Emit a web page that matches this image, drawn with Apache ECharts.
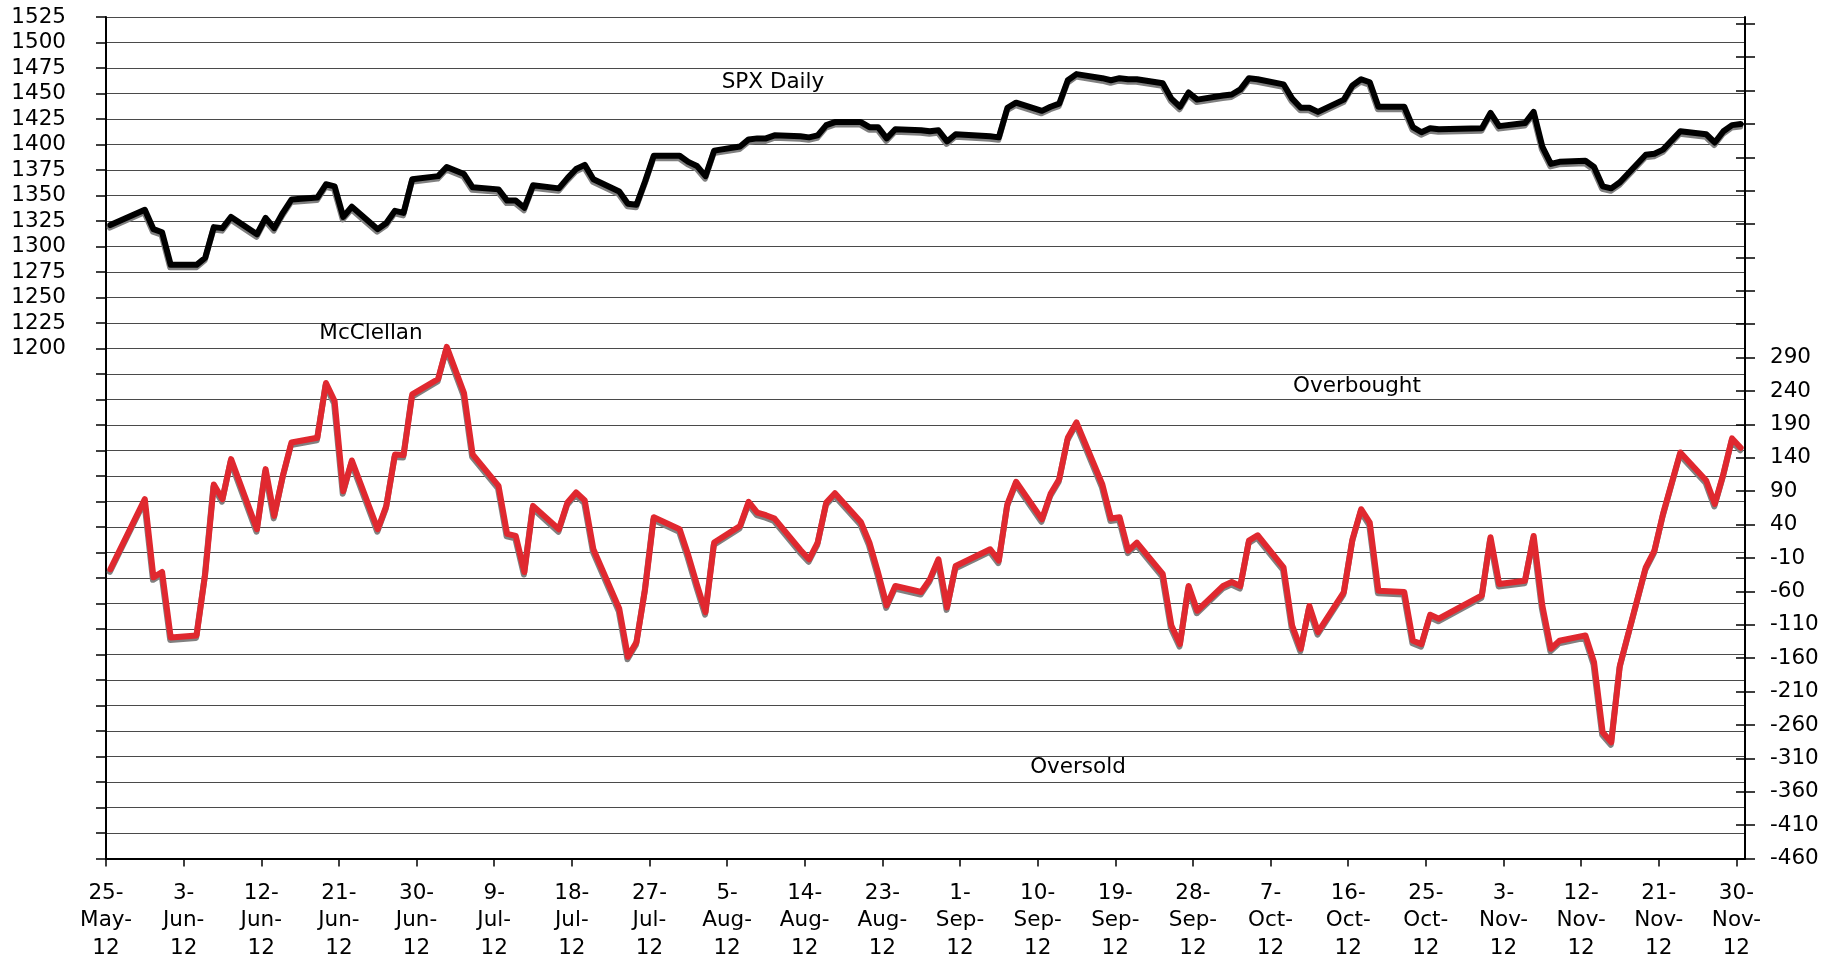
<!DOCTYPE html>
<html>
<head>
<meta charset="utf-8">
<script src="https://cdn.jsdelivr.net/npm/echarts@6/dist/echarts.min.js"></script>
<style>
  html, body { margin: 0; padding: 0; background: #fff; }
  #chart { width: 1839px; height: 962px; }
</style>
</head>
<body>
<div id="chart"></div>
<script>
// ---------- DATA ----------
const dates = [
  '2012-05-25','2012-05-29','2012-05-30','2012-05-31',
  '2012-06-01','2012-06-04','2012-06-05','2012-06-06','2012-06-07','2012-06-08','2012-06-11','2012-06-12','2012-06-13','2012-06-14','2012-06-15','2012-06-18','2012-06-19','2012-06-20','2012-06-21','2012-06-22','2012-06-25','2012-06-26','2012-06-27','2012-06-28','2012-06-29',
  '2012-07-02','2012-07-03','2012-07-05','2012-07-06','2012-07-09','2012-07-10','2012-07-11','2012-07-12','2012-07-13','2012-07-16','2012-07-17','2012-07-18','2012-07-19','2012-07-20','2012-07-23','2012-07-24','2012-07-25','2012-07-26','2012-07-27','2012-07-30','2012-07-31',
  '2012-08-01','2012-08-02','2012-08-03','2012-08-06','2012-08-07','2012-08-08','2012-08-09','2012-08-10','2012-08-13','2012-08-14','2012-08-15','2012-08-16','2012-08-17','2012-08-20','2012-08-21','2012-08-22','2012-08-23','2012-08-24','2012-08-27','2012-08-28','2012-08-29','2012-08-30','2012-08-31',
  '2012-09-04','2012-09-05','2012-09-06','2012-09-07','2012-09-10','2012-09-11','2012-09-12','2012-09-13','2012-09-14','2012-09-17','2012-09-18','2012-09-19','2012-09-20','2012-09-21','2012-09-24','2012-09-25','2012-09-26','2012-09-27','2012-09-28',
  '2012-10-01','2012-10-02','2012-10-03','2012-10-04','2012-10-05','2012-10-08','2012-10-09','2012-10-10','2012-10-11','2012-10-12','2012-10-15','2012-10-16','2012-10-17','2012-10-18','2012-10-19','2012-10-22','2012-10-23','2012-10-24','2012-10-25','2012-10-26','2012-10-31',
  '2012-11-01','2012-11-02','2012-11-05','2012-11-06','2012-11-07','2012-11-08','2012-11-09','2012-11-12','2012-11-13','2012-11-14','2012-11-15','2012-11-16','2012-11-19','2012-11-20','2012-11-21','2012-11-23','2012-11-26','2012-11-27','2012-11-28','2012-11-29','2012-11-30'
];

const spxDaily = [
  1321, 1336, 1317, 1314,
  1282, 1282, 1289, 1319, 1318, 1329, 1312, 1328, 1318, 1333, 1346, 1348, 1361, 1359, 1329, 1339, 1317, 1323, 1335, 1333, 1366,
  1369, 1378, 1371, 1358, 1356, 1345, 1345, 1338, 1360, 1357, 1367, 1376, 1380, 1366, 1354, 1342, 1341, 1364, 1389, 1389, 1383,
  1379, 1369, 1394, 1398, 1405, 1406, 1406, 1409, 1408, 1407, 1409, 1419, 1422, 1422, 1417, 1417, 1406, 1415, 1414, 1413, 1414, 1403, 1410,
  1408, 1407, 1436, 1441, 1433, 1437, 1440, 1463, 1469, 1465, 1463, 1465, 1464, 1464, 1460, 1445, 1437, 1451, 1444,
  1448, 1449, 1454, 1465, 1464, 1459, 1445, 1436, 1436, 1432, 1444, 1458, 1464, 1461, 1437, 1437, 1417, 1412, 1416, 1415, 1416,
  1431, 1418, 1421, 1432, 1398, 1381, 1383, 1384, 1378, 1359, 1357, 1363, 1390, 1391, 1395, 1413, 1410, 1402, 1413, 1419, 1420
];

const mcClellan = [
  -27, 78, -39, -31,
  -129, -126, -34, 100, 78, 138, 33, 123, 53, 113, 163, 170, 252, 225, 90, 136, 33, 68, 145, 144, 235,
  258, 306, 237, 145, 98, 26, 23, -31, 68, 33, 73, 88, 76, 3, -86, -158, -136, -56, 51, 33, -6,
  -50, -91, 13, 38, 74, 58, 54, 49, 2, -12, 13, 73, 87, 44, 13, -32, -81, -52, -61, -42, -12, -84, -22,
  3, -14, 71, 104, 48, 86, 108, 170, 193, 100, 49, 51, 1, 13, -34, -111, -139, -52, -89,
  -52, -46, -52, 16, 24, -24, -111, -146, -82, -121, -61, 18, 63, 43, -59, -61, -134, -139, -95, -101, -66,
  21, -49, -44, 23, -81, -146, -134, -126, -166, -271, -286, -171, -24, 1, 56, 148, 106, 71, 116, 169, 155
];

const xTickDates = ['2012-05-25','2012-06-03','2012-06-12','2012-06-21','2012-06-30','2012-07-09','2012-07-18','2012-07-27','2012-08-05','2012-08-14','2012-08-23','2012-09-01','2012-09-10','2012-09-19','2012-09-28','2012-10-07','2012-10-16','2012-10-25','2012-11-03','2012-11-12','2012-11-21','2012-11-30'];
const xTickLabels = ['25-\nMay-\n12','3-\nJun-\n12','12-\nJun-\n12','21-\nJun-\n12','30-\nJun-\n12','9-\nJul-\n12','18-\nJul-\n12','27-\nJul-\n12','5-\nAug-\n12','14-\nAug-\n12','23-\nAug-\n12','1-\nSep-\n12','10-\nSep-\n12','19-\nSep-\n12','28-\nSep-\n12','7-\nOct-\n12','16-\nOct-\n12','25-\nOct-\n12','3-\nNov-\n12','12-\nNov-\n12','21-\nNov-\n12','30-\nNov-\n12'];

const spxLabelValues = [1200,1225,1250,1275,1300,1325,1350,1375,1400,1425,1450,1475,1500,1525];
const mcTickValues = [-460,-410,-360,-310,-260,-210,-160,-110,-60,-10,40,90,140,190,240,290,340,390,440,490,540,590,640,690,740,790];
const mcLabelValues = [-460,-410,-360,-310,-260,-210,-160,-110,-60,-10,40,90,140,190,240,290];

// ---------- HELPERS ----------
const startDate = '2012-05-25';
function dayOf(s) {
  const p = s.split('-').map(Number), q = startDate.split('-').map(Number);
  return (Date.UTC(p[0], p[1]-1, p[2]) - Date.UTC(q[0], q[1]-1, q[2])) / 864e5;
}
// points sit at mid-day of their date, as in the original
const spxPts = dates.map((d, i) => [dayOf(d) + 0.5, spxDaily[i]]);
const mcPts = dates.map((d, i) => [dayOf(d) + 0.5, mcClellan[i]]);
const xTickDays = xTickDates.map(dayOf);
const labelByDay = {};
xTickDays.forEach((d, i) => { labelByDay[d] = xTickLabels[i]; });

const FONT = 'DejaVu Sans';
const FS = 21.5;

const chart = echarts.init(document.getElementById('chart'), null, { renderer: 'canvas' });
chart.setOption({
  animation: false,
  backgroundColor: '#fff',
  grid: { left: 106, right: 94, top: 17, bottom: 102, containLabel: false },
  xAxis: {
    type: 'value', min: 0, max: 190,
    axisLine: { show: true, onZero: false, lineStyle: { color: '#000', width: 2 } },
    axisTick: { show: true, length: 8, customValues: xTickDays, lineStyle: { color: '#000', width: 1.5 } },
    axisLabel: {
      customValues: xTickDays,
      formatter: v => labelByDay[Math.round(v)] || '',
      fontFamily: FONT, fontSize: FS, color: '#000', lineHeight: 27.5, margin: 21, align: 'center'
    },
    splitLine: { show: false }
  },
  yAxis: [
    {
      type: 'value', position: 'left', min: 700, max: 1525, interval: 25,
      axisLine: { show: true, lineStyle: { color: '#000', width: 2 } },
      axisTick: { show: true, length: 10, lineStyle: { color: '#000', width: 1.5 } },
      axisLabel: { customValues: spxLabelValues, formatter: v => String(v), fontFamily: FONT, fontSize: FS, color: '#000', margin: 40 },
      splitLine: { show: true, lineStyle: { color: '#4a4a4a', width: 1.2 } }
    },
    {
      type: 'value', position: 'right', min: -460, max: 800,
      axisLine: { show: true, lineStyle: { color: '#000', width: 2 } },
      axisTick: { show: true, length: 10, customValues: mcTickValues, lineStyle: { color: '#000', width: 1.5 } },
      axisLabel: { customValues: mcLabelValues, formatter: v => String(v), fontFamily: FONT, fontSize: FS, color: '#000', margin: 25, align: 'left' },
      splitLine: { show: false }
    },
    {
      type: 'value', position: 'right', min: -460, max: 800,
      axisLine: { show: false },
      axisTick: { show: true, inside: true, length: 9, customValues: mcTickValues, lineStyle: { color: '#000', width: 1.5 } },
      axisLabel: { show: false },
      splitLine: { show: false }
    }
  ],
  series: [
    {
      name: 'McClellan', type: 'line', yAxisIndex: 1, data: mcPts,
      symbol: 'none', z: 3,
      lineStyle: { color: '#E0282F', width: 6, join: 'round', cap: 'round',
        shadowColor: '#808080', shadowBlur: 0.5, shadowOffsetX: -0.5, shadowOffsetY: 2.5 }
    },
    {
      name: 'SPX Daily', type: 'line', yAxisIndex: 0, data: spxPts,
      symbol: 'none', z: 4,
      lineStyle: { color: '#000', width: 6, join: 'round', cap: 'round',
        shadowColor: '#808080', shadowBlur: 0.5, shadowOffsetX: -0.5, shadowOffsetY: 2.5 }
    }
  ],
  graphic: [
    { type: 'text', x: 773, y: 82, z: 10, style: { text: 'SPX Daily', fontFamily: FONT, fontSize: FS, fill: '#000', textAlign: 'center', textVerticalAlign: 'middle' } },
    { type: 'text', x: 371, y: 333, z: 10, style: { text: 'McClellan', fontFamily: FONT, fontSize: FS, fill: '#000', textAlign: 'center', textVerticalAlign: 'middle' } },
    { type: 'text', x: 1357, y: 386, z: 10, style: { text: 'Overbought', fontFamily: FONT, fontSize: FS, fill: '#000', textAlign: 'center', textVerticalAlign: 'middle' } },
    { type: 'text', x: 1078, y: 767, z: 10, style: { text: 'Oversold', fontFamily: FONT, fontSize: FS, fill: '#000', textAlign: 'center', textVerticalAlign: 'middle' } }
  ]
});
</script>
</body>
</html>
